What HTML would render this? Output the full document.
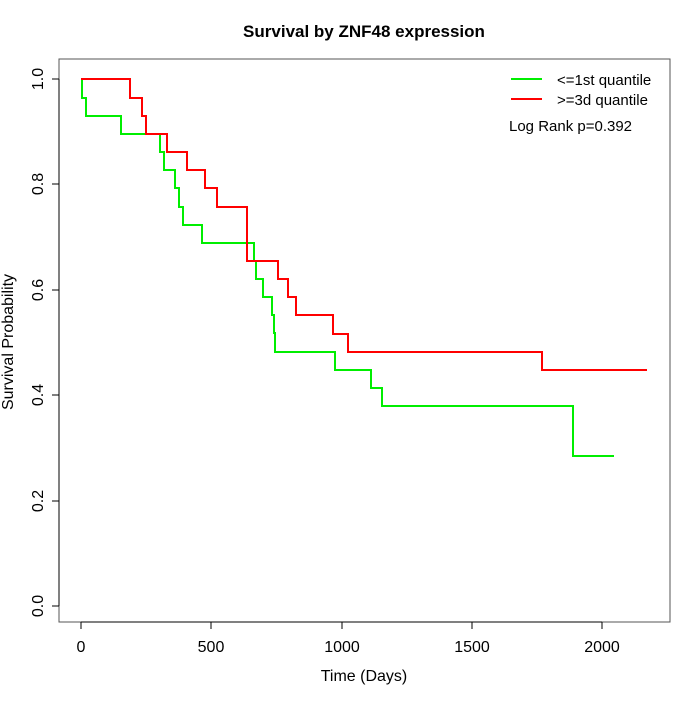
<!DOCTYPE html><html><head><style>body{margin:0;background:#fff}</style></head><body>
<svg width="700" height="700" xmlns="http://www.w3.org/2000/svg" font-family="Liberation Sans, sans-serif">
<rect width="700" height="700" fill="#fff"/>
<text x="364" y="37" text-anchor="middle" font-size="17" font-weight="bold">Survival by ZNF48 expression</text>
<rect x="59" y="59" width="611" height="563" fill="none" stroke="#555" stroke-width="1"/>
<g stroke="#000" stroke-width="1">
<line x1="81" y1="622" x2="602" y2="622"/>
<line x1="81" y1="622" x2="81" y2="629"/><line x1="211" y1="622" x2="211" y2="629"/><line x1="342" y1="622" x2="342" y2="629"/><line x1="472" y1="622" x2="472" y2="629"/><line x1="602" y1="622" x2="602" y2="629"/>
<line x1="59" y1="79" x2="59" y2="606"/>
<line x1="52" y1="79" x2="59" y2="79"/><line x1="52" y1="184" x2="59" y2="184"/><line x1="52" y1="290" x2="59" y2="290"/><line x1="52" y1="395" x2="59" y2="395"/><line x1="52" y1="501" x2="59" y2="501"/><line x1="52" y1="606" x2="59" y2="606"/>
</g>
<g font-size="16" text-anchor="middle">
<text x="81" y="652">0</text><text x="211" y="652">500</text><text x="342" y="652">1000</text><text x="472" y="652">1500</text><text x="602" y="652">2000</text>
<text x="364" y="681">Time (Days)</text>
<text transform="translate(43,79) rotate(-90)">1.0</text>
<text transform="translate(43,184) rotate(-90)">0.8</text>
<text transform="translate(43,290) rotate(-90)">0.6</text>
<text transform="translate(43,395) rotate(-90)">0.4</text>
<text transform="translate(43,501) rotate(-90)">0.2</text>
<text transform="translate(43,606) rotate(-90)">0.0</text>
<text transform="translate(13,342) rotate(-90)">Survival Probability</text>
</g>
<polyline fill="none" stroke="#00ee00" stroke-width="2" points="81,79 82,79 82,98 86,98 86,116 121,116 121,134 160,134 160,152 164,152 164,170 175,170 175,188 179,188 179,207 183,207 183,225 202,225 202,243 254,243 254,261 256,261 256,279 263,279 263,297 272,297 272,315 274,315 274,333 275,333 275,352 335,352 335,370 371,370 371,388 382,388 382,406 573,406 573,456 614,456"/>
<polyline fill="none" stroke="#ff0000" stroke-width="2" points="81,79 130,79 130,98 142,98 142,116 146,116 146,134 167,134 167,152 187,152 187,170 205,170 205,188 217,188 217,207 247,207 247,261 278,261 278,279 288,279 288,297 296,297 296,315 333,315 333,334 348,334 348,352 542,352 542,370 647,370"/>
<line x1="511" y1="79" x2="542" y2="79" stroke="#00ee00" stroke-width="2"/>
<line x1="511" y1="99" x2="542" y2="99" stroke="#ff0000" stroke-width="2"/>
<g font-size="15"><text x="557" y="85">&lt;=1st quantile</text><text x="557" y="105">&gt;=3d quantile</text><text x="509" y="131">Log Rank p=0.392</text></g>
</svg></body></html>
